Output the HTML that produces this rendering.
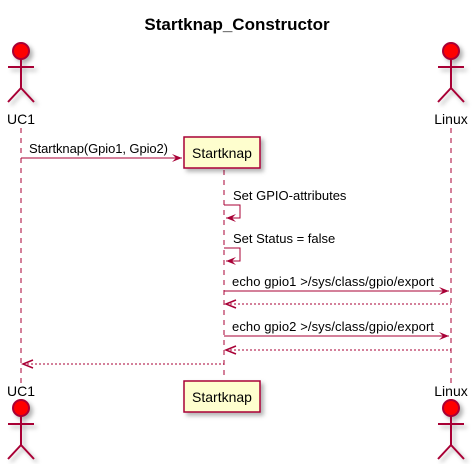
<!DOCTYPE html>
<html><head><style>body{margin:0;background:#fff}</style></head><body>
<svg width="473" height="464" xmlns="http://www.w3.org/2000/svg" font-family="Liberation Sans, sans-serif">
<defs>
<filter id="sh" x="-20%" y="-20%" width="150%" height="150%"><feDropShadow dx="3" dy="3" stdDeviation="2" flood-color="#000" flood-opacity="0.3"/></filter>
<g id="actor" stroke="#A80036" stroke-width="2" fill="none">
<circle cx="0" cy="0" r="8" fill="#FF0000"/>
<line x1="0" y1="8" x2="0" y2="37"/>
<line x1="-13" y1="16" x2="13" y2="16"/>
<line x1="0" y1="37" x2="-13" y2="51"/>
<line x1="0" y1="37" x2="13" y2="51"/>
</g>
</defs>
<text x="237" y="30" font-size="17" font-weight="bold" text-anchor="middle">Startknap_Constructor</text>
<g stroke="#A80036" stroke-dasharray="5,5" stroke-width="1">
<line x1="21" y1="128" x2="21" y2="384"/>
<line x1="224" y1="170" x2="224" y2="380"/>
<line x1="451" y1="128" x2="451" y2="384"/>
</g>
<g filter="url(#sh)"><use href="#actor" x="21" y="51"/><use href="#actor" x="451" y="51"/>
<use href="#actor" x="21" y="408"/><use href="#actor" x="451" y="408"/></g>
<g font-size="14" text-anchor="middle">
<text x="21" y="124">UC1</text><text x="451" y="124">Linux</text>
<text x="21" y="396">UC1</text><text x="451" y="396">Linux</text>
</g>
<g filter="url(#sh)" fill="#FEFECE" stroke="#A80036" stroke-width="1.5">
<rect x="184" y="137" width="76" height="31"/>
<rect x="184" y="381" width="76" height="31"/>
</g>
<g font-size="14" text-anchor="middle"><text x="222" y="158">Startknap</text><text x="222" y="402">Startknap</text></g>
<g stroke="#A80036" stroke-width="1" fill="none">
<line x1="21" y1="158" x2="182" y2="158"/>
<polyline points="224,205 240,205 240,218 226,218"/>
<polyline points="224,248 240,248 240,261 226,261"/>
<line x1="224" y1="291" x2="449" y2="291"/>
<line x1="226" y1="304" x2="451" y2="304" stroke-dasharray="2,2"/>
<line x1="224" y1="336" x2="449" y2="336"/>
<line x1="226" y1="350" x2="451" y2="350" stroke-dasharray="2,2"/>
<line x1="23" y1="364" x2="224" y2="364" stroke-dasharray="2,2"/>
</g>
<g fill="#A80036">
<polygon points="182,158 172,154 176,158 172,162"/>
<polygon points="226,218 236,214 232,218 236,222"/>
<polygon points="226,261 236,257 232,261 236,265"/>
<polygon points="449,291 439,287 443,291 439,295"/>
<polygon points="449,336 439,332 443,336 439,340"/>
</g>
<g stroke="#A80036" fill="none" stroke-width="1.5">
<polyline points="236,300 226,304 236,308"/>
<polyline points="236,346 226,350 236,354"/>
<polyline points="33,360 23,364 33,368"/>
</g>
<g font-size="13">
<text x="29" y="153" textLength="139">Startknap(Gpio1, Gpio2)</text>
<text x="233" y="200">Set GPIO-attributes</text>
<text x="233" y="243">Set Status = false</text>
<text x="232" y="286" textLength="202">echo gpio1 &gt;/sys/class/gpio/export</text>
<text x="232" y="331" textLength="202">echo gpio2 &gt;/sys/class/gpio/export</text>
</g>
</svg>
</body></html>
